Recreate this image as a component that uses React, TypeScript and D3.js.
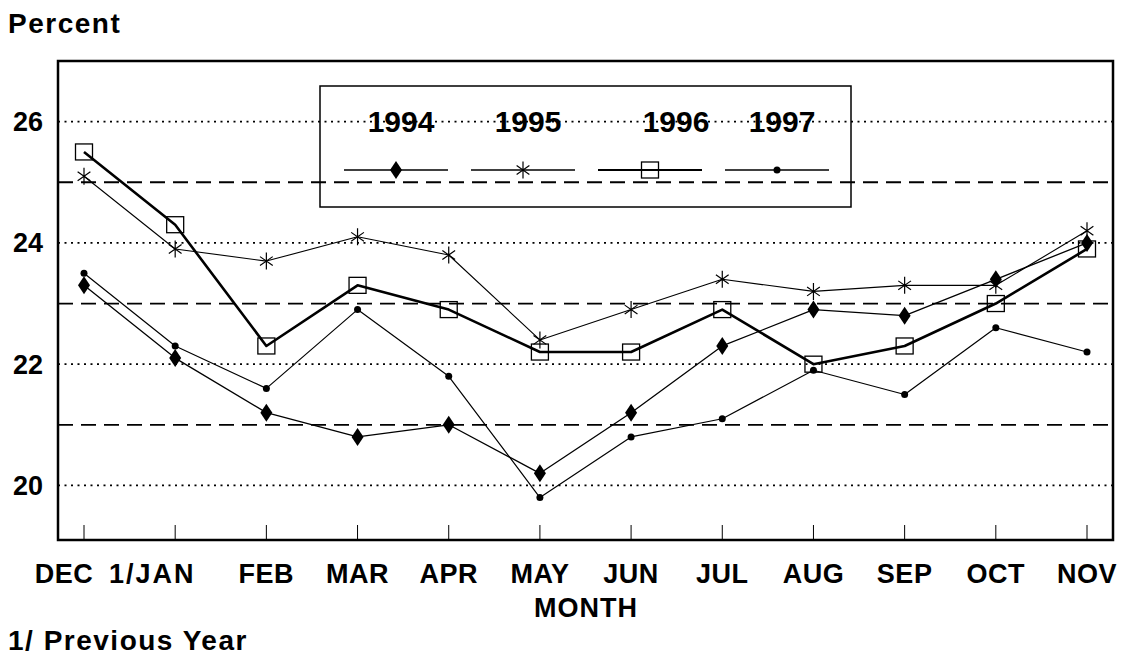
import React from 'react';
import * as d3 from 'd3';

const monthKeys = ['DEC', '1/JAN', 'FEB', 'MAR', 'APR', 'MAY', 'JUN', 'JUL', 'AUG', 'SEP', 'OCT', 'NOV'];

const years = ['1994', '1995', '1996', '1997'];
const values1994 = [23.3, 22.1, 21.2, 20.8, 21.0, 20.2, 21.2, 22.3, 22.9, 22.8, 23.4, 24.0];
const values1995 = [25.1, 23.9, 23.7, 24.1, 23.8, 22.4, 22.9, 23.4, 23.2, 23.3, 23.3, 24.2];
const values1996 = [25.5, 24.3, 22.3, 23.3, 22.9, 22.2, 22.2, 22.9, 22.0, 22.3, 23.0, 23.9];
const values1997 = [23.5, 22.3, 21.6, 22.9, 21.8, 19.8, 20.8, 21.1, 21.9, 21.5, 22.6, 22.2];

const yTickLabels = [20, 22, 24, 26];
const dottedLevels = [20, 22, 24, 26];
const dashedLevels = [21, 23, 25];

const FONT = '"Liberation Sans", Arial, Helvetica, sans-serif';

type MarkerKind = 'diamond' | 'star' | 'square' | 'dot';

const seriesList: { year: string; values: number[]; marker: MarkerKind; width: number }[] = [
  { year: years[0], values: values1994, marker: 'diamond', width: 1.3 },
  { year: years[1], values: values1995, marker: 'star', width: 1.1 },
  { year: years[2], values: values1996, marker: 'square', width: 2.6 },
  { year: years[3], values: values1997, marker: 'dot', width: 1.2 },
];

const Marker: React.FC<{ kind: MarkerKind; x: number; y: number }> = ({ kind, x, y }) => {
  if (kind === 'diamond') {
    return <path d={`M${x},${y - 9}L${x + 6},${y}L${x},${y + 9}L${x - 6},${y}Z`} fill="#000" />;
  }
  if (kind === 'star') {
    const r = 8.5;
    const d = r * 0.75;
    return (
      <path
        d={`M${x},${y - r}L${x},${y + r}M${x - d},${y - d * 0.7}L${x + d},${y + d * 0.7}M${x - d},${y + d * 0.7}L${x + d},${y - d * 0.7}`}
        stroke="#000"
        strokeWidth={1.2}
        fill="none"
      />
    );
  }
  if (kind === 'square') {
    return <rect x={x - 8.5} y={y - 8} width={17} height={16} fill="none" stroke="#000" strokeWidth={1.3} />;
  }
  return <circle cx={x} cy={y} r={3.5} fill="#000" />;
};

export default function App() {
  const width = 1133;
  const height = 657;
  const plot = { left: 58, right: 1113, top: 61, bottom: 540 };

  const x = d3
    .scalePoint<string>()
    .domain(monthKeys)
    .range([plot.left + 26, plot.right - 26]);

  const y = d3.scaleLinear().domain([19.1, 27]).range([plot.bottom, plot.top]);

  const line = d3
    .line<number>()
    .x((_, i) => x(monthKeys[i]) as number)
    .y((d) => y(d));

  // legend layout
  const legend = { left: 320, top: 86, right: 851, bottom: 207 };
  const legendCenters = [396, 523, 650, 777];
  const legendTextCenters = [401, 528, 676, 782];
  const legendLineY = 170;

  // label nudges for the crowded first two months
  const labelDx = (i: number) => (i === 0 ? -20 : i === 1 ? -23 : 0);

  return (
    <div style={{ position: 'absolute', left: 0, top: 0 }}>
      <svg width={width} height={height} style={{ display: 'block', background: '#fff' }}>
        {/* Gridlines */}
        {dottedLevels.map((v) => (
          <line
            key={`dot-${v}`}
            x1={plot.left}
            x2={plot.right}
            y1={y(v)}
            y2={y(v)}
            stroke="#000"
            strokeWidth={1.8}
            strokeDasharray="2 4.5"
          />
        ))}
        {dashedLevels.map((v) => (
          <line
            key={`dash-${v}`}
            x1={plot.left}
            x2={plot.right}
            y1={y(v)}
            y2={y(v)}
            stroke="#000"
            strokeWidth={1.8}
            strokeDasharray="15 8"
          />
        ))}

        {/* X ticks */}
        {monthKeys.map((m) => (
          <line
            key={`tick-${m}`}
            x1={x(m)}
            x2={x(m)}
            y1={plot.bottom}
            y2={plot.bottom - 15}
            stroke="#000"
            strokeWidth={1}
          />
        ))}

        {/* Frame */}
        <rect
          x={plot.left}
          y={plot.top}
          width={plot.right - plot.left}
          height={plot.bottom - plot.top}
          fill="none"
          stroke="#000"
          strokeWidth={2.5}
        />

        {/* Legend box */}
        <rect
          x={legend.left}
          y={legend.top}
          width={legend.right - legend.left}
          height={legend.bottom - legend.top}
          fill="none"
          stroke="#000"
          strokeWidth={1.5}
        />
        {seriesList.map((s, i) => (
          <g key={`leg-${s.year}`}>
            <text
              x={legendTextCenters[i]}
              y={132}
              textAnchor="middle"
              fontFamily={FONT}
              fontWeight="bold"
              fontSize={30}
            >
              {s.year}
            </text>
            <line
              x1={legendCenters[i] - 52}
              x2={legendCenters[i] + 52}
              y1={legendLineY}
              y2={legendLineY}
              stroke="#000"
              strokeWidth={s.marker === 'square' ? 1.8 : 1.3}
            />
            <Marker kind={s.marker} x={legendCenters[i]} y={legendLineY} />
          </g>
        ))}

        {/* Series */}
        {seriesList.map((s) => (
          <g key={s.year}>
            <path d={line(s.values) || ''} fill="none" stroke="#000" strokeWidth={s.width} strokeLinejoin="round" />
            {s.values.map((v, i) => (
              <Marker key={i} kind={s.marker} x={x(monthKeys[i]) as number} y={y(v)} />
            ))}
          </g>
        ))}

        {/* Y labels */}
        {yTickLabels.map((v) => (
          <text
            key={`yl-${v}`}
            x={43}
            y={y(v) + 9.5}
            textAnchor="end"
            fontFamily={FONT}
            fontWeight="bold"
            fontSize={27}
          >
            {v}
          </text>
        ))}

        {/* X labels */}
        {monthKeys.map((m, i) => (
          <text
            key={`xl-${m}`}
            x={(x(m) as number) + labelDx(i)}
            y={583}
            textAnchor="middle"
            fontFamily={FONT}
            fontWeight="bold"
            fontSize={27}
            letterSpacing={i === 1 ? 2 : 0.5}
          >
            {m}
          </text>
        ))}

        <text x={586} y={617} textAnchor="middle" fontFamily={FONT} fontWeight="bold" fontSize={27} letterSpacing={1}>
          MONTH
        </text>
        <text x={8} y={33} fontFamily={FONT} fontWeight="bold" fontSize={28} letterSpacing={1.5}>
          Percent
        </text>
        <text x={8} y={650} fontFamily={FONT} fontWeight="bold" fontSize={28} letterSpacing={1.5}>
          1/ Previous Year
        </text>
      </svg>
    </div>
  );
}
